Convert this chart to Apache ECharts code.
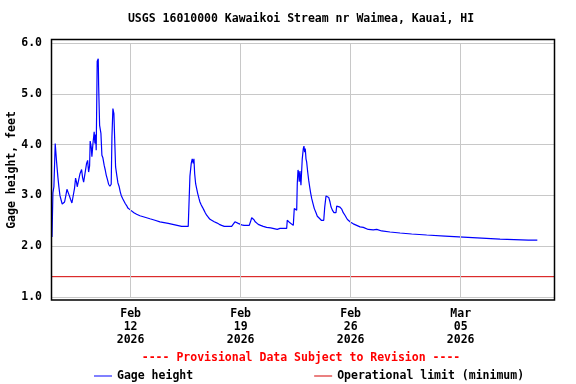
<!DOCTYPE html>
<html>
<head>
<meta charset="utf-8">
<script src="https://cdn.jsdelivr.net/npm/echarts@6/dist/echarts.min.js"></script>
<style>html,body{margin:0;padding:0;background:#fff;}#c{width:576px;height:384px;}</style>
</head>
<body>
<div id="c"></div>
<script>
// Hours since 2026-02-07 00:00 (local)
var hours = [0, 1.4, 2.9, 4.9, 7.0, 9.0, 10.5, 12.1, 14.1, 15.6,
  17.7, 19.2, 21.2, 22.8, 25.3, 26.3, 28.4, 30.4, 33.4, 34.5,
  36.0, 37.6, 38.5, 41.1, 42.6, 45.2, 46.7, 48.3, 49.8, 51.3,
  52.8, 54.4, 55.9, 57.4, 58.3, 59.9, 60.9, 62.5, 63.5, 64.4,
  65.5, 66.6, 67.5, 69.0, 70.6, 71.2, 72.7, 74.7, 76.2, 77.7,
  79.7, 81.3, 82.8, 84.9, 86.4, 88.4, 90.4, 91.5, 93.0, 94.5,
  95.6, 97.1, 99.1, 100.6, 102.6, 104.2, 105.7, 107.8, 109.8, 111.8,
  113.9, 115.9, 119.0, 121.6, 125.1, 129.2, 134.2, 141.9, 149.5, 157.2,
  164.8, 177.5, 187.7, 197.9, 208.0, 209.5, 210.6, 212.6, 214.1, 215.6,
  216.7, 217.8, 219.3, 220.8, 222.4, 224.4, 225.9, 227.9, 230.0, 232.0,
  234.0, 236.1, 238.6, 241.2, 244.2, 247.7, 251.4, 255.4, 259.0, 263.0,
  274.3, 275.8, 279.3, 281.9, 284.4, 287.0, 289.6, 293.1, 301.2, 303.3,
  304.9, 306.4, 308.4, 310.3, 312.5, 314.9, 318.6, 322.5, 327.7, 333.9,
  343.9, 348.1, 358.3, 359.2, 360.7, 363.3, 365.9, 368.4, 369.9, 372.5,
  373.6, 374.5, 375.6, 376.6, 377.5, 378.6, 380.1, 381.2, 382.1, 383.7,
  384.7, 385.8, 386.7, 387.8, 388.8, 390.4, 391.9, 393.4, 395.0, 396.5,
  398.5, 400.5, 403.1, 405.1, 408.2, 411.2, 414.9, 416.4, 418.4, 420.4,
  422.5, 424.5, 426.1, 428.1, 430.5, 433.6, 434.7, 437.1, 439.7, 442.3,
  444.7, 447.3, 449.9, 452.4, 456.0, 460.0, 465.2, 470.3, 475.3, 482.9,
  490.6, 495.8, 497.8, 503.4, 516.1, 531.4, 549.2, 572.1, 600.1, 628.0,
  656.1, 684.1, 727.3, 741.0];
var gageHeight = [2.18, 3.05, 3.17, 4.02, 3.66, 3.36, 3.17, 3.00, 2.90, 2.83,
  2.84, 2.87, 3.00, 3.12, 3.12, 3.00, 2.92, 2.85, 2.85, 3.15,
  3.34, 3.25, 3.17, 3.20, 3.42, 3.51, 3.35, 3.26, 3.23, 3.27,
  3.63, 3.69, 3.46, 3.58, 4.07, 3.95, 3.76, 4.02, 4.14, 4.25,
  4.02, 4.20, 3.89, 5.64, 5.69, 5.17, 4.38, 4.22, 3.79, 3.74,
  3.59, 3.50, 3.40, 3.30, 3.22, 3.18, 3.22, 4.15, 4.71, 4.61,
  4.15, 3.56, 3.38, 3.25, 3.17, 3.07, 3.00, 2.94, 2.89, 2.84,
  2.80, 2.75, 2.72, 2.69, 2.66, 2.63, 2.60, 2.57, 2.54, 2.51,
  2.48, 2.45, 2.42, 2.39, 2.39, 2.41, 3.38, 3.63, 3.72, 3.63,
  3.72, 3.43, 3.23, 3.14, 3.04, 2.94, 2.87, 2.81, 2.76, 2.71,
  2.66, 2.61, 2.57, 2.53, 2.50, 2.48, 2.46, 2.43, 2.41, 2.39,
  2.39, 2.41, 2.48, 2.49, 2.45, 2.43, 2.42, 2.41, 2.41, 2.49,
  2.56, 2.56, 2.52, 2.48, 2.45, 2.43, 2.41, 2.39, 2.37, 2.36,
  2.33, 2.35, 2.35, 2.51, 2.50, 2.46, 2.44, 2.41, 2.74, 2.74,
  2.71, 3.23, 3.50, 3.44, 3.27, 3.48, 3.20, 3.20, 3.72, 3.92,
  3.97, 3.85, 3.92, 3.72, 3.66, 3.46, 3.30, 3.17, 3.04, 2.94,
  2.84, 2.74, 2.66, 2.59, 2.55, 2.51, 2.51, 2.77, 2.99, 3.00,
  2.96, 2.87, 2.77, 2.71, 2.66, 2.66, 2.79, 2.80, 2.77, 2.73,
  2.66, 2.61, 2.55, 2.51, 2.47, 2.44, 2.41, 2.38, 2.37, 2.33,
  2.32, 2.33, 2.32, 2.30, 2.28, 2.26, 2.24, 2.22, 2.20, 2.18,
  2.16, 2.14, 2.12, 2.12];
var limitHours = [0, 768];
var limitValues = [1.4, 1.4];
var xMin = 0, xMax = 768;            // Feb 07 00:00 .. Mar 11 00:00
var tickHours = [120, 288, 456, 624]; // Feb 12, Feb 19, Feb 26, Mar 05
var tickLabels = ['Feb\n12\n2026', 'Feb\n19\n2026', 'Feb\n26\n2026', 'Mar\n05\n2026'];
var yTicks = [1, 2, 3, 4, 5, 6];

var FONT = '"DejaVu Sans Mono", "Liberation Mono", monospace';
var FS = 11.5;

var chart = echarts.init(document.getElementById('c'), null, {renderer: 'canvas'});
var gageData = hours.map(function (h, i) { return [h, gageHeight[i]]; });
var limitData = limitHours.map(function (h, i) { return [h, limitValues[i]]; });

chart.setOption({
  animation: false,
  backgroundColor: '#ffffff',
  grid: {left: 52, right: 21, top: 43, bottom: 87, containLabel: false, outerBoundsMode: 'none'},
  xAxis: {
    type: 'value', min: xMin, max: xMax, interval: 24,
    axisLine: {show: false}, axisTick: {show: false},
    splitLine: {show: false},
    axisLabel: {
      formatter: function (v) { var i = tickHours.indexOf(v); return i >= 0 ? tickLabels[i] : ''; },
      fontFamily: FONT, fontSize: FS, fontWeight: 'bold', color: '#000', lineHeight: 13, margin: 11
    }
  },
  yAxis: {
    type: 'value', min: yTicks[0], max: yTicks[yTicks.length - 1], interval: 1,
    name: 'Gage height, feet', nameLocation: 'middle', nameGap: 34, nameRotate: 90,
    nameMoveOverlap: false,
    nameTextStyle: {fontFamily: FONT, fontSize: FS, fontWeight: 'bold', color: '#000'},
    axisLine: {show: false}, axisTick: {show: false},
    splitLine: {show: true, lineStyle: {color: '#c8c8c8', width: 1}},
    axisLabel: {
      formatter: function (v) { return v.toFixed(1); },
      fontFamily: FONT, fontSize: FS, fontWeight: 'bold', color: '#000', margin: 10
    }
  },
  legend: {
    left: 89, top: 365, itemWidth: 18, itemHeight: 1, itemGap: 121, icon: 'rect',
    textStyle: {fontFamily: FONT, fontSize: FS, fontWeight: 'bold', color: '#000'},
    data: ['Gage height', 'Operational limit (minimum)']
  },
  series: [
    {
      name: 'Operational limit (minimum)', type: 'line', data: limitData, z: 2,
      symbol: 'none', lineStyle: {color: '#d40000', width: 1}, itemStyle: {color: '#d40000'},
      silent: true,
      markLine: {
        silent: true, symbol: 'none', label: {show: false},
        lineStyle: {color: '#c8c8c8', width: 1, type: 'solid'},
        data: tickHours.map(function (h) { return {xAxis: h}; })
      }
    },
    {
      name: 'Gage height', type: 'line', data: gageData, z: 3,
      symbol: 'none', lineStyle: {color: '#0000ff', width: 1.2}, itemStyle: {color: '#0000ff'},
      silent: true
    }
  ],
  graphic: [
    {type: 'rect', z: 100, silent: true,
     shape: {x: 51.5, y: 39.5, width: 503, height: 260.5},
     style: {fill: 'none', stroke: '#000', lineWidth: 1.5}},
    {type: 'text', z: 100, silent: true, x: 301, y: 19,
     style: {text: 'USGS 16010000 Kawaikoi Stream nr Waimea, Kauai, HI', fill: '#000',
             font: 'bold ' + FS + 'px ' + FONT, textAlign: 'center', textVerticalAlign: 'middle'}},
    {type: 'text', z: 100, silent: true, x: 301, y: 358,
     style: {text: '---- Provisional Data Subject to Revision ----', fill: '#ff0000',
             font: 'bold ' + FS + 'px ' + FONT, textAlign: 'center', textVerticalAlign: 'middle'}}
  ]
});
</script>
</body>
</html>
